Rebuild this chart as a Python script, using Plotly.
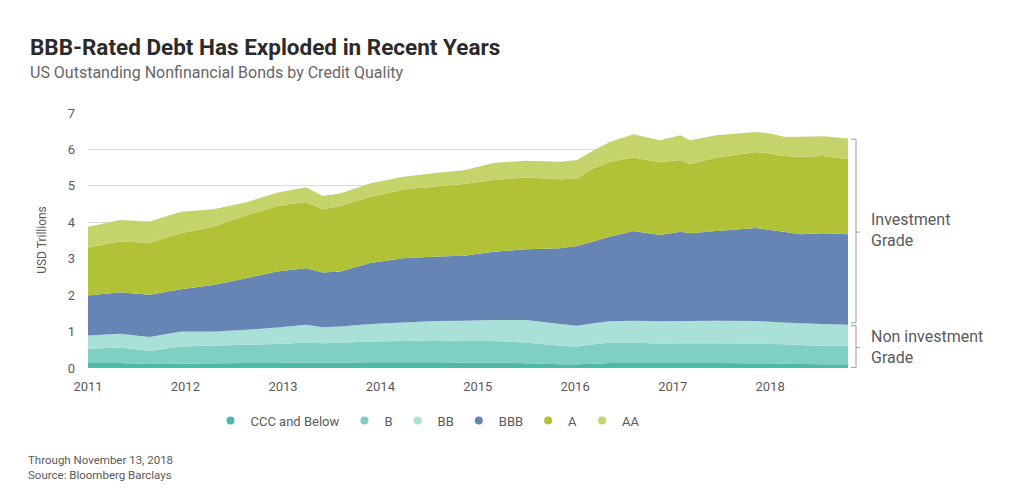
import plotly.graph_objects as go

dates = ["2011-01-01", "2011-05-01", "2011-08-20", "2011-12-15", "2012-04-15", "2012-08-20",
         "2012-12-10", "2013-03-28", "2013-05-30", "2013-08-03", "2013-11-25", "2014-03-28",
         "2014-08-03", "2014-11-10", "2015-02-28", "2015-07-01", "2015-11-06", "2016-01-08",
         "2016-03-10", "2016-05-12", "2016-08-07", "2016-11-13", "2017-01-30", "2017-03-07",
         "2017-06-13", "2017-11-10", "2018-01-01", "2018-02-21", "2018-04-23", "2018-07-20",
         "2018-10-20"]

ccc = [0.14, 0.14, 0.11, 0.12, 0.13, 0.14, 0.14, 0.15, 0.15, 0.15, 0.16, 0.16, 0.16, 0.15, 0.15, 0.13,
       0.10, 0.10, 0.12, 0.14, 0.14, 0.14, 0.14, 0.14, 0.14, 0.13, 0.13, 0.12, 0.11, 0.10, 0.10]
b = [0.39, 0.42, 0.36, 0.47, 0.49, 0.50, 0.52, 0.55, 0.53, 0.54, 0.57, 0.58, 0.60, 0.59, 0.59, 0.57,
     0.51, 0.49, 0.53, 0.56, 0.55, 0.53, 0.54, 0.54, 0.54, 0.54, 0.53, 0.53, 0.52, 0.51, 0.51]
bb = [0.36, 0.38, 0.38, 0.41, 0.38, 0.41, 0.45, 0.49, 0.44, 0.45, 0.48, 0.51, 0.53, 0.56, 0.58, 0.62,
      0.60, 0.57, 0.58, 0.58, 0.61, 0.61, 0.61, 0.61, 0.62, 0.62, 0.61, 0.60, 0.60, 0.60, 0.58]
bbb = [1.10, 1.14, 1.16, 1.16, 1.28, 1.42, 1.54, 1.55, 1.50, 1.51, 1.67, 1.76, 1.77, 1.78, 1.87, 1.94,
       2.08, 2.19, 2.24, 2.33, 2.46, 2.37, 2.45, 2.41, 2.46, 2.55, 2.52, 2.49, 2.44, 2.49, 2.48]
a = [1.32, 1.39, 1.43, 1.54, 1.60, 1.73, 1.80, 1.82, 1.74, 1.80, 1.82, 1.89, 1.93, 1.97, 1.97, 1.97,
     1.89, 1.85, 2.01, 2.05, 2.02, 2.00, 1.97, 1.90, 2.02, 2.09, 2.10, 2.08, 2.13, 2.12, 2.06]
aa = [0.57, 0.59, 0.58, 0.59, 0.48, 0.36, 0.36, 0.40, 0.36, 0.34, 0.37, 0.35, 0.37, 0.38, 0.47, 0.46,
      0.48, 0.51, 0.50, 0.55, 0.64, 0.60, 0.68, 0.65, 0.61, 0.55, 0.55, 0.53, 0.55, 0.54, 0.57]

series_names = ["CCC and Below", "B", "BB", "BBB", "A", "AA"]
series_values = [ccc, b, bb, bbb, a, aa]
colors = ["#4dbaa9", "#7fcfc3", "#a9e0d7", "#6785b4", "#b2c236", "#c5d36b"]

y_ticks = [0, 1, 2, 3, 4, 5, 6, 7]

fig = go.Figure()
for name, vals, col in zip(series_names, series_values, colors):
    fig.add_trace(go.Scatter(x=dates, y=vals, name=name, stackgroup="one", mode="none",
                             fillcolor=col, showlegend=False, hoverinfo="x+y+name"))
for name, col in zip(series_names, colors):
    fig.add_trace(go.Scatter(x=[None], y=[None], name=name, mode="markers",
                             marker=dict(color=col, size=8, symbol="circle"), showlegend=True))

gray = "#5a5a5a"
bracket_col = "#9a9a9a"

# page body has an 8px offset; plot area on screen: x 88..848, y 113..368
def px_x(p):
    return (p - 88) / 760.0

def px_y(p):
    return (368.3 - p) / 255.3

shapes = []
def bracket(ytop, ybot, ymid):
    xs = [px_x(851), px_x(856), px_x(860)]
    shapes.append(dict(type="line", xref="paper", yref="y", x0=xs[1], x1=xs[1], y0=ytop, y1=ybot,
                       line=dict(color=bracket_col, width=1)))
    shapes.append(dict(type="line", xref="paper", yref="y", x0=xs[0], x1=xs[1], y0=ytop, y1=ytop,
                       line=dict(color=bracket_col, width=1)))
    shapes.append(dict(type="line", xref="paper", yref="y", x0=xs[0], x1=xs[1], y0=ybot, y1=ybot,
                       line=dict(color=bracket_col, width=1)))
    shapes.append(dict(type="line", xref="paper", yref="y", x0=xs[1], x1=xs[2], y0=ymid, y1=ymid,
                       line=dict(color=bracket_col, width=1)))

bracket(6.28, 1.24, 3.73)
bracket(1.16, 0.01, 0.56)

annotations = [
    dict(text="<b>BBB-Rated Debt Has Exploded in Recent Years</b>", xref="paper", yref="paper",
         x=px_x(28), y=px_y(47), xanchor="left", yanchor="middle", showarrow=False,
         font=dict(family="Roboto", size=22.5, color="#2b2b2b")),
    dict(text="US Outstanding Nonfinancial Bonds by Credit Quality", xref="paper", yref="paper",
         x=px_x(28), y=px_y(72), xanchor="left", yanchor="middle", showarrow=False,
         font=dict(family="Roboto", size=16, color="#666666")),
    dict(text="USD Trillions", xref="paper", yref="paper", x=px_x(42), y=px_y(240),
         xanchor="center", yanchor="middle", textangle=-90, showarrow=False,
         font=dict(family="Roboto", size=12, color=gray)),
    dict(text="Investment<br>Grade", xref="paper", yref="paper", x=px_x(869), y=px_y(230),
         xanchor="left", yanchor="middle", align="left", showarrow=False,
         font=dict(family="Roboto", size=16, color=gray)),
    dict(text="Non investment<br>Grade", xref="paper", yref="paper", x=px_x(869), y=px_y(347),
         xanchor="left", yanchor="middle", align="left", showarrow=False,
         font=dict(family="Roboto", size=16, color=gray)),
    dict(text="Through November 13, 2018<br>Source: Bloomberg Barclays", xref="paper", yref="paper",
         x=px_x(26), y=px_y(468), xanchor="left", yanchor="middle", align="left", showarrow=False,
         font=dict(family="Roboto", size=11.5, color=gray)),
]

fig.update_layout(
    width=1024, height=503,
    margin=dict(l=80, r=184, t=105, b=143, pad=0),
    paper_bgcolor="white", plot_bgcolor="white",
    font=dict(family="Roboto", color=gray),
    showlegend=True,
    legend=dict(orientation="h", traceorder="normal", x=px_x(428), y=px_y(421),
                xanchor="center", yanchor="middle",
                font=dict(family="Roboto", size=13, color=gray), itemwidth=30,
                bgcolor="rgba(0,0,0,0)"),
    xaxis=dict(type="date", range=["2011-01-01", "2018-10-20"], dtick="M12", tickformat="%Y",
               showgrid=False, showline=False, zeroline=False, ticks="",
               tickfont=dict(size=13, color=gray), ticklabelstandoff=9),
    yaxis=dict(range=[0, 7], tickvals=y_ticks, showgrid=True, gridcolor="#dcdcdc", gridwidth=1,
               zeroline=False, showline=False, ticks="", tickfont=dict(size=13, color=gray),
               ticklabelstandoff=12),
    shapes=shapes,
    annotations=annotations,
)

fig.write_html("out.html")
